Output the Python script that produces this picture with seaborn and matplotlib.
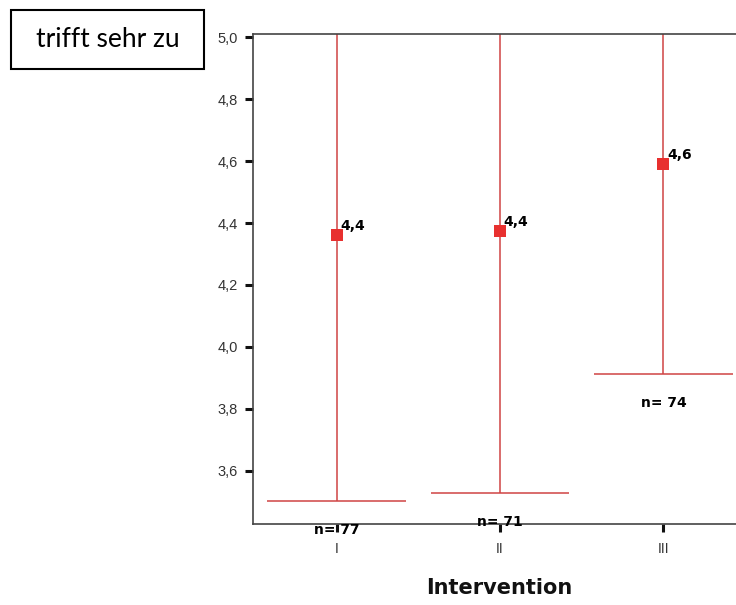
import matplotlib
matplotlib.use("Agg")
import matplotlib.pyplot as plt
from matplotlib.patches import Rectangle
import seaborn as sns
import pandas as pd
import numpy as np

categories = ["I", "II", "III"]
means = [4.361, 4.374, 4.591]
ci_low = [3.501, 3.527, 3.911]
ci_high = [5.22, 5.24, 5.29]
mean_labels = ["4,4", "4,4", "4,6"]
n_labels = ["n= 77", "n= 71", "n= 74"]
yticks = [3.6, 3.8, 4.0, 4.2, 4.4, 4.6, 4.8, 5.0]
ytick_labels = ["3,6", "3,8", "4,0", "4,2", "4,4", "4,6", "4,8", "5,0"]

sns.set_theme(style="white")
plt.rcParams['font.family'] = ['Liberation Sans', 'DejaVu Sans']

df = pd.DataFrame({"cat": categories, "mean": means, "lo": ci_low, "hi": ci_high})
xpos = np.arange(len(categories))

W, H = 736, 605
fig = plt.figure(figsize=(W / 100, H / 100), dpi=100)
ax_left, ax_top, ax_bottom, ax_width = 253.3, 34, 524, 491.8
ax = fig.add_axes([ax_left / W, 1 - ax_bottom / H, ax_width / W, (ax_bottom - ax_top) / H])

line_col = "#cf4444"
mark_col = "#e8302f"

ax.vlines(xpos, df["lo"], df["hi"], color=line_col, lw=1.1, zorder=2)
ax.hlines(df["lo"], xpos - 0.425, xpos + 0.425, color=line_col, lw=1.1, zorder=2)

sns.scatterplot(x=xpos, y=df["mean"], marker="s", s=80, color=mark_col,
                edgecolor=mark_col, linewidth=0, ax=ax, zorder=3, legend=False)

for x, m, lab in zip(xpos, df["mean"], mean_labels):
    ax.annotate(lab, (x, m), xytext=(2.5, 3.5), textcoords="offset points",
                ha="left", va="baseline", fontsize=10, fontweight="bold", color="black",
                family=['DejaVu Sans'], zorder=4)
for x, lo, lab in zip(xpos, df["lo"], n_labels):
    ax.annotate(lab, (x, lo), xytext=(0, -20.5), textcoords="offset points",
                ha="center", va="center", fontsize=10, fontweight="bold", color="black",
                family=['DejaVu Sans'], zorder=5, annotation_clip=False)

ax.set_xlim(-0.51, 2.5)
ax.set_ylim(3.4275, 5.011)
ax.set_xticks(xpos)
ax.set_xticklabels(categories, fontsize=10, color="#333333")
ax.set_yticks(yticks)
ax.set_yticklabels(ytick_labels, fontsize=10.5, color="#333333")
ax.tick_params(axis="y", direction="out", length=6, width=2.2, color="#111111",
               left=True, pad=5)
ax.tick_params(axis="x", direction="out", length=6, width=2.2, color="#111111",
               bottom=True, pad=7)

for side in ["left", "bottom", "top", "right"]:
    ax.spines[side].set_color("#444444")
    ax.spines[side].set_linewidth(1.2)

ax.set_xlabel("Intervention", fontsize=15, fontweight="bold", labelpad=16,
              family=['DejaVu Sans'], color="#111111")
ax.set_ylabel("")

box = Rectangle((11 / W, 1 - 69 / H), (204 - 11) / W, (69 - 10) / H,
                transform=fig.transFigure, facecolor="white", edgecolor="black",
                lw=1.5, zorder=1)
fig.add_artist(box)
fig.text(107.5 / W, 1 - 47 / H, "trifft sehr zu", ha="center", va="baseline",
         fontsize=19, family=['Lato', 'DejaVu Sans'], color="black", zorder=2)

fig.savefig("out.png", dpi=100)
